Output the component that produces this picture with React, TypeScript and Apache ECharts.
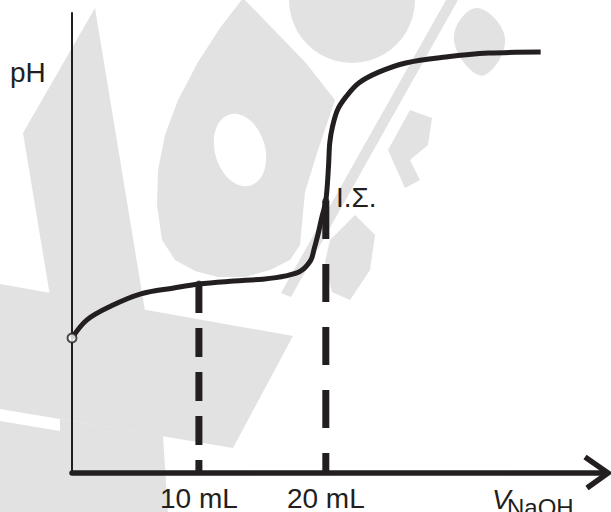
import React, { useEffect, useRef } from "react";
import * as echarts from "echarts";

// Titration curve (V NaOH in mL, pH in arbitrary units 0..14)
const volume = [0, 1.18, 3.07, 5.43, 8.03, 10, 12.76, 15.04, 16.85, 18.03, 18.82, 19.06, 19.37, 19.69, 20, 20.21, 20.31, 20.52, 20.92, 21.57, 22.6, 24.17, 26.3, 29.45, 32.83, 36.93];
const phValues = [4.11, 4.66, 5.08, 5.45, 5.63, 5.75, 5.84, 5.9, 6.0, 6.15, 6.48, 6.79, 7.24, 7.79, 8.28, 9.31, 10.04, 10.53, 11.05, 11.44, 11.87, 12.2, 12.48, 12.66, 12.78, 12.81];

const halfPoint = [10, 5.75];
const eqPoint = [20, 8.28];
const startPoint = [0, 4.11];
const tickLabels = [10, 20];
const xMax = 42;
const yMax = 14;

const INK = "#231f20";
const WM = "#e2e2e2";
const FONT = "Liberation Sans, Arial, sans-serif";

export default function App() {
  const ref = useRef<HTMLDivElement>(null);
  useEffect(() => {
    if (!ref.current) return;
    const chart = echarts.init(ref.current, null, { renderer: "svg" });
    const curve = volume.map((v, i) => [v, phValues[i]]);
    const wm = (points: number[][], smooth = 0) => ({
      type: "polygon",
      z: -10,
      silent: true,
      shape: { points, smooth },
      style: { fill: WM },
    });
    chart.setOption({
      animation: false,
      backgroundColor: "#ffffff",
      grid: { left: 72, right: 6, top: 13, bottom: 39 },
      xAxis: {
        type: "value",
        min: 0,
        max: xMax,
        interval: 10,
        axisLine: { show: true, onZero: false, lineStyle: { color: INK, width: 5.5 } },
        axisTick: { show: false },
        splitLine: { show: false },
        axisLabel: {
          customValues: tickLabels,
          formatter: (v: number) => `${v} mL`,
          fontSize: 28,
          fontFamily: FONT,
          color: INK,
          margin: 11,
        },
      },
      yAxis: {
        type: "value",
        min: 0,
        max: yMax,
        axisLine: { show: true, lineStyle: { color: INK, width: 2 } },
        axisTick: { show: false },
        splitLine: { show: false },
        axisLabel: { show: false },
      },
      series: [
        {
          type: "line",
          data: [halfPoint, [halfPoint[0], 0]],
          symbol: "none",
          lineStyle: { color: INK, width: 7, type: [29, 15], cap: "butt" },
          z: 3,
        },
        {
          type: "line",
          data: [eqPoint, [eqPoint[0], 0]],
          symbol: "none",
          lineStyle: { color: INK, width: 7, type: [38, 25], cap: "butt" },
          z: 3,
        },
        {
          type: "line",
          data: curve,
          symbol: "none",
          smooth: 0.35,
          lineStyle: { color: INK, width: 5, cap: "butt" },
          z: 4,
        },
        {
          type: "scatter",
          data: [halfPoint, eqPoint],
          symbol: "circle",
          symbolSize: 7,
          itemStyle: { color: INK },
          z: 5,
        },
        {
          type: "scatter",
          data: [startPoint],
          symbol: "emptyCircle",
          symbolSize: 9,
          itemStyle: { color: INK, borderColor: INK, borderWidth: 1.5 },
          z: 5,
        },
      ],
      graphic: {
        elements: [
          // watermark (approximate)
          wm([[95, 8], [23, 133], [50, 296], [145, 311]]),
          wm([[0, 284], [293, 336], [233, 448], [0, 409]]),
          wm([[0, 421], [60, 431], [60, 419], [163, 436], [168, 512], [0, 512]]),
          wm([[243, -2], [306, 63], [335, 100], [318, 150], [305, 192], [300, 245], [290, 260], [270, 270], [245, 277], [218, 277], [195, 271], [175, 260], [162, 240], [157, 205], [158, 170], [165, 135], [178, 100], [198, 62], [220, 28]]),
          {
            type: "ellipse",
            z: -9,
            silent: true,
            x: 240,
            y: 150,
            rotation: 0.29,
            shape: { cx: 0, cy: 0, rx: 25, ry: 37 },
            style: { fill: "#ffffff" },
          },
          {
            type: "circle",
            z: -10,
            silent: true,
            shape: { cx: 352, cy: 0, r: 63 },
            style: { fill: WM },
          },
          wm([[281, 293], [446, 0], [458, 0], [291, 297]]),
          wm([[388, 150], [410, 110], [432, 118], [428, 145], [410, 160], [420, 180], [405, 188]]),
          wm([[330, 240], [355, 215], [375, 235], [370, 270], [350, 300], [332, 292], [325, 262]]),
          wm([[455, 30], [478, 8], [505, 38], [485, 75], [462, 60]], 0.4),
          // texts
          {
            type: "text",
            z: 100,
            x: 10,
            y: 58,
            style: { text: "pH", font: `28px ${FONT}`, fill: INK, verticalAlign: "top" },
          },
          {
            type: "text",
            z: 100,
            x: 336,
            y: 183,
            style: { text: "Ι.Σ.", font: `28px ${FONT}`, fill: INK, verticalAlign: "top" },
          },
          {
            type: "text",
            z: 100,
            x: 492,
            y: 485,
            style: { text: "V", font: `italic 28px ${FONT}`, fill: INK, verticalAlign: "top" },
          },
          {
            type: "text",
            z: 100,
            x: 507,
            y: 495,
            style: { text: "NaOH", font: `24px ${FONT}`, fill: INK, verticalAlign: "top" },
          },
          {
            id: "arrow",
            type: "polyline",
            z: 100,
            shape: { points: [[0, 0], [0, 0]] },
            style: { stroke: INK, lineWidth: 5.5, fill: "none" },
          },
        ],
      },
    });
    const end = chart.convertToPixel({ xAxisIndex: 0, yAxisIndex: 0 }, [xMax, 0]) as number[];
    chart.setOption({
      graphic: {
        elements: [
          {
            id: "arrow",
            shape: {
              points: [
                [end[0] - 20, end[1] - 16],
                [end[0] + 3, end[1]],
                [end[0] - 18, end[1] + 15],
              ],
            },
          },
        ],
      },
    });
    return () => chart.dispose();
  }, []);
  return <div ref={ref} style={{ width: 611, height: 512, position: "absolute", left: 0, top: 0 }} />;
}
